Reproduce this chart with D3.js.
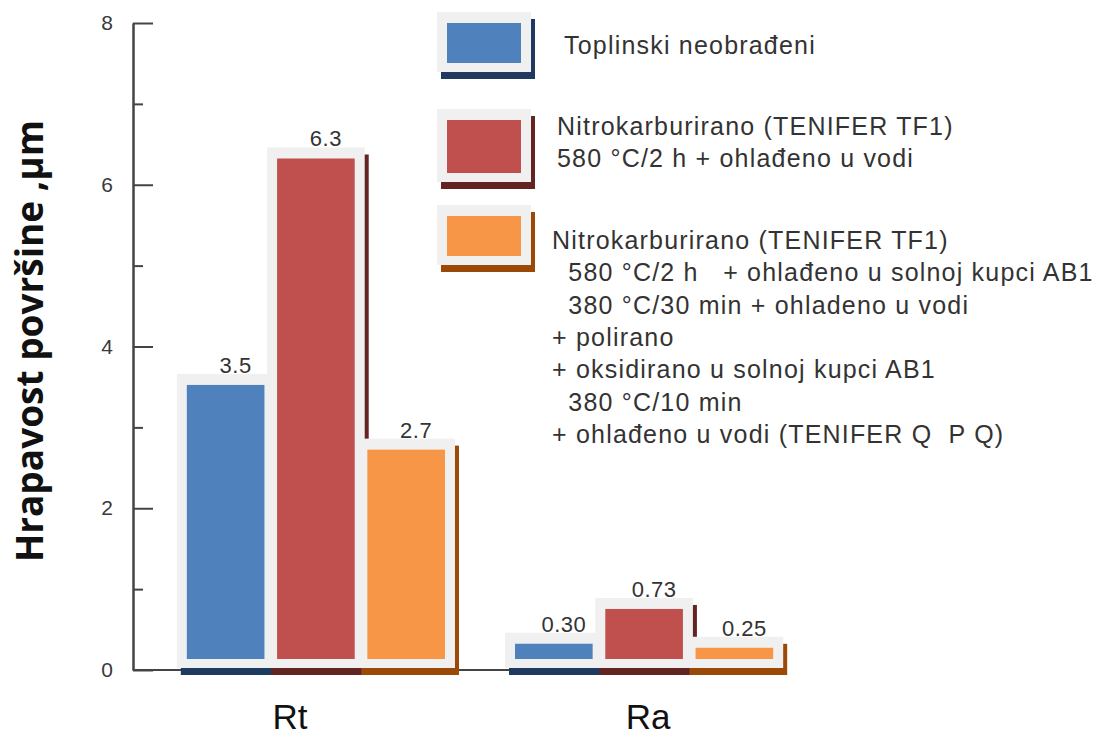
<!DOCTYPE html>
<html>
<head>
<meta charset="utf-8">
<script src="https://cdn.jsdelivr.net/npm/d3@7"></script>
<style>
  html, body { margin: 0; padding: 0; background: #fff; }
  svg { display: block; }
  text { white-space: pre; }
</style>
</head>
<body>
<svg id="chart" width="1095" height="735"></svg>
<script>
// ---------------- data ----------------
const categories = ["Rt", "Ra"];
const seriesKeys = ["untreated", "tf1", "qpq"];
const valuesUntreated = [3.5, 0.30];
const valuesTF1 = [6.3, 0.73];
const valuesQPQ = [2.7, 0.25];
const labelsUntreated = ["3.5", "0.30"];
const labelsTF1 = ["6.3", "0.73"];
const labelsQPQ = ["2.7", "0.25"];
const majorTicks = [0, 2, 4, 6, 8];
const minorTicks = [1, 3, 5, 7];
const yTitle = "Hrapavost površine ,µm";
const legendUntreated = ["Toplinski neobrađeni"];
const legendTF1 = ["Nitrokarburirano (TENIFER TF1)", "580 °C/2 h + ohlađeno u vodi"];
const legendQPQ = [
  "Nitrokarburirano (TENIFER TF1)",
  "  580 °C/2 h   + ohlađeno u solnoj kupci AB1",
  "  380 °C/30 min + ohladeno u vodi",
  "+ polirano",
  "+ oksidirano u solnoj kupci AB1",
  "  380 °C/10 min",
  "+ ohlađeno u vodi (TENIFER Q  P Q)"
];

// ---------------- styles ----------------
const fills = ["#4f81bd", "#c0504d", "#f79646"];
const shadows = ["#1f3a60", "#632523", "#9a4a06"];
const frameFill = "#f0f0f0";
const seriesValues = [valuesUntreated, valuesTF1, valuesQPQ];
const seriesLabels = [labelsUntreated, labelsTF1, labelsQPQ];

const svg = d3.select("#chart");

const y = d3.scaleLinear().domain([0, 8]).range([670, 23]);
const x0 = d3.scaleBand().domain(categories).range([154, 806]).paddingInner(0.2134).paddingOuter(0.1);
const x1 = d3.scaleBand().domain(seriesKeys).range([0, x0.bandwidth()]).paddingInner(0.14);
// category label axis (evenly spaced category slots)
const xCat = d3.scaleBand().domain(categories).range([111, 827]);
const axisX = 133;

// ---------------- axes ----------------
const axisColor = "#444";
const minorAxis = svg.append("g").attr("transform", `translate(${axisX},0)`)
  .call(d3.axisRight(y).tickValues(minorTicks).tickSize(10).tickSizeOuter(0).tickFormat(""));
const majorAxis = svg.append("g").attr("transform", `translate(${axisX},0)`)
  .call(d3.axisRight(y).tickValues(majorTicks).tickSize(20).tickSizeOuter(0).tickFormat(""));
[minorAxis, majorAxis].forEach(g => {
  g.selectAll("path, line").attr("stroke", axisColor).attr("stroke-width", 2);
});
const labelAxis = svg.append("g").attr("transform", `translate(${axisX},0)`)
  .call(d3.axisLeft(y).tickValues(majorTicks).tickSize(0).tickPadding(26).tickFormat(d3.format("d")));
labelAxis.select(".domain").remove();
labelAxis.selectAll("text")
  .attr("font-family", "Liberation Sans, Arial, sans-serif")
  .attr("font-size", 21).attr("fill", "#3a3a3a").attr("text-anchor", "middle");

// baseline
svg.append("line")
  .attr("x1", axisX).attr("x2", x0("Ra") - 5)
  .attr("y1", y(0)).attr("y2", y(0))
  .attr("stroke", axisColor).attr("stroke-width", 2);

// ---------------- value labels (drawn below frames) ----------------
seriesKeys.forEach((k, s) => {
  svg.append("g").selectAll("text").data(categories).join("text")
    .attr("x", (c) => x0(c) + x1(k) + x1.bandwidth() / 2 + 10)
    .attr("y", (c, i) => y(seriesValues[s][i]) - 14)
    .attr("text-anchor", "middle")
    .attr("font-family", "Liberation Sans, Arial, sans-serif")
    .attr("font-size", 22).attr("letter-spacing", "0.5px")
    .attr("fill", "#333")
    .text((c, i) => seriesLabels[s][i]);
});

// ---------------- bars with frame + shadow ----------------
const pad = 10;
seriesKeys.forEach((k, s) => {
  const g = svg.append("g");
  categories.forEach((c, i) => {
    const v = seriesValues[s][i];
    const bx = x0(c) + x1(k);
    const bw = x1.bandwidth();
    const top = y(v) - 2;
    const bottom = y(0) - 11;
    const fx = bx - pad, fy = top - 11, fw = bw + 2 * pad, fh = (y(0) - 2) - fy;
    g.append("rect").attr("x", fx + 4).attr("y", fy + 7).attr("width", fw).attr("height", fh).attr("fill", shadows[s]);
    g.append("rect").attr("x", fx).attr("y", fy).attr("width", fw).attr("height", fh).attr("fill", frameFill);
    g.append("rect").attr("x", bx).attr("y", top).attr("width", bw).attr("height", bottom - top).attr("fill", fills[s]);
  });
});

// ---------------- category labels ----------------
svg.append("g").selectAll("text").data(categories).join("text")
  .attr("x", (c) => xCat(c) + xCat.bandwidth() / 2)
  .attr("y", 729)
  .attr("text-anchor", "middle")
  .attr("font-family", "Liberation Sans, Arial, sans-serif")
  .attr("font-size", 35).attr("fill", "#111")
  .text((c) => c);

// ---------------- y title ----------------
svg.append("text")
  .attr("transform", "translate(43,341) rotate(-90)")
  .attr("text-anchor", "middle")
  .attr("font-family", "Open Sans, sans-serif")
  .attr("font-weight", 700)
  .attr("font-size", 37).attr("fill", "#111")
  .text(yTitle);

// ---------------- legend ----------------
const legendItems = [
  { lines: legendUntreated, top: 23, h: 40, textX: 564, base: 54 },
  { lines: legendTF1, top: 120, h: 53, textX: 557, base: 135 },
  { lines: legendQPQ, top: 216, h: 40, textX: 552, base: 249 }
];
const lg = svg.append("g");
legendItems.forEach((it, s) => {
  const sx = 447, sw = 74;
  const fx = sx - pad, fy = it.top - 11, fw = sw + 2 * pad, fh = it.h + 20;
  lg.append("rect").attr("x", fx + 4).attr("y", fy + 7).attr("width", fw).attr("height", fh).attr("fill", shadows[s]);
  lg.append("rect").attr("x", fx).attr("y", fy).attr("width", fw).attr("height", fh).attr("fill", frameFill);
  lg.append("rect").attr("x", sx).attr("y", it.top).attr("width", sw).attr("height", it.h).attr("fill", fills[s]);
  lg.append("g").selectAll("text").data(it.lines).join("text")
    .attr("x", it.textX)
    .attr("y", (d, i) => it.base + i * 32.3)
    .attr("font-family", "Liberation Sans, Arial, sans-serif")
    .attr("font-size", 25).attr("letter-spacing", "1.2px")
    .attr("fill", "#333")
    .text((d) => d);
});
</script>
</body>
</html>
